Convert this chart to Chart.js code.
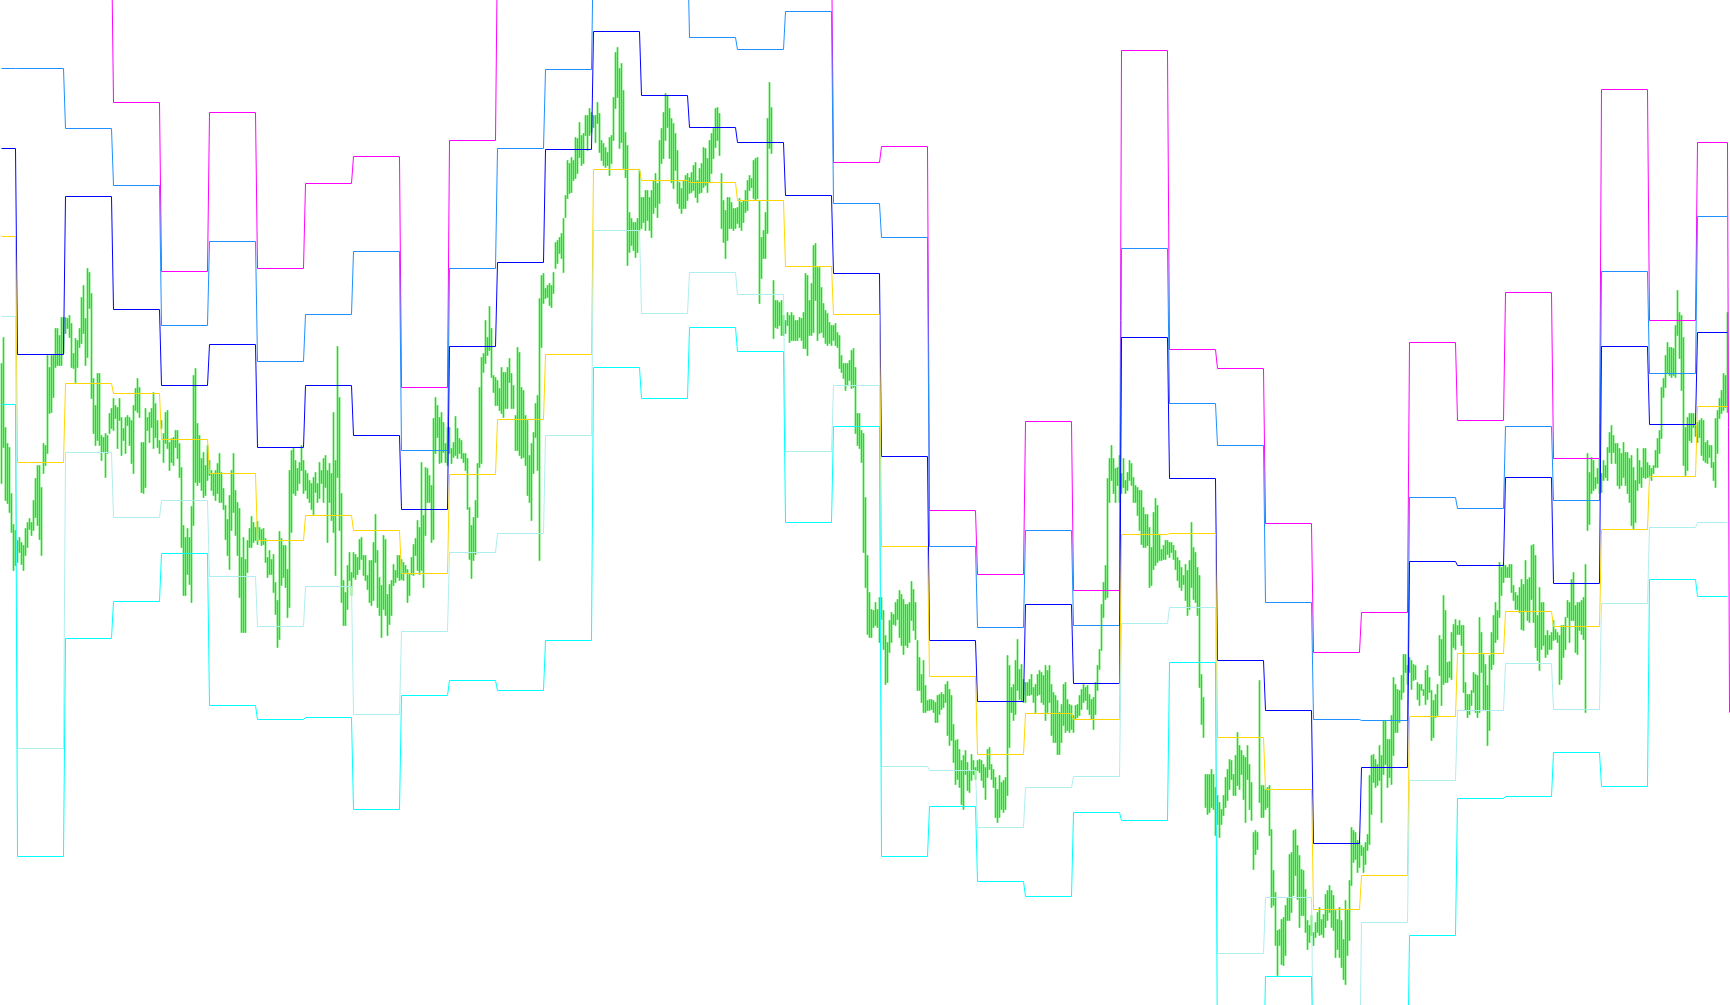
<!DOCTYPE html>
<html>
<head>
<meta charset="utf-8">
<title>Pivot levels</title>
<script src="https://cdn.jsdelivr.net/npm/chart.js@4.4.0/dist/chart.umd.min.js"></script>
<style>
  html, body { margin: 0; padding: 0; background: #fff; overflow: hidden; }
  #wrap { width: 1730px; height: 1005px; }
</style>
</head>
<body>
<div id="wrap"><canvas id="chart" width="1730" height="1005"></canvas></div>
<script>
// bar highs, one bar every 2px (864 bars)
var barHigh = [
  637,663,573,557,553,507,476,470,460,463, 458,455,472,478,482,478,500,522,535,535,
  513,557,555,645,633,645,645,672,672,665, 683,683,683,682,685,677,647,662,660,672,
  703,715,682,732,728,707,622,595,627,627, 565,563,567,565,587,592,602,595,593,602,
  583,572,583,585,583,580,595,612,622,613, 558,558,592,583,588,592,608,597,580,560,
  580,567,588,590,558,562,563,570,570,557, 533,475,463,472,463,494,625,632,577,565,
  542,548,535,555,540,530,527,530,537,547, 528,512,495,481,505,530,547,510,498,492,
  443,463,441,460,472,484,478,473,479,473, 471,472,462,443,450,441,446,418,400,469,
  462,455,455,431,
  530,550,552,540,532,538,555,540,530,527, 520,517,523,528,517,538,530,542,545,530,
  537,527,588,540,654,603,507,420,408,435, 448,428,448,446,443,461,463,445,445,425,
  440,440,458,486,450,423,415,465,461,406, 416,420,436,430,445,445,441,438,435,431,
  426,443,456,462,480,473,538,485,533,532, 525,515,582,603,595,583,588,578,557,573,
  573,552,558,584,572,562,560,547,547,542, 493,475,483,500,537,613,643,647,680,663,
  694,672,625,623,620,612,633,628,628,633, 642,627,615,585,653,648,613,610,585,580,
  545,557,568,597,605,702,725,727,712,715, 717,715,728,758,760,763,767,782,805,840,
  837,843,840,863,
  862,878,865,867,885,885,892,888,885,885, 898,887,860,857,853,848,863,865,903,948,
  953,932,937,910,868,855,788,782,778,778, 782,830,803,803,810,810,803,810,820,827,
  817,860,872,888,907,905,892,882,877,867, 850,818,812,820,825,827,823,828,835,838,
  820,832,837,853,852,842,860,867,872,892, 893,887,827,800,790,803,803,798,792,792,
  793,802,798,800,810,820,825,822,840,842, 843,800,763,770,788,882,918,893,720,700,
  700,698,700,685,680,688,685,688,685,680, 680,683,682,688,727,725,700,717,755,757,
  733,733,713,697,690,687,678,675,675,677, 668,665,645,637,637,637,640,650,652,633,
  587,587,570,567,
  503,445,408,391,390,398,391,403,403,390, 365,358,380,388,386,398,401,410,406,401,
  396,396,398,419,411,398,360,343,326,340, 315,300,301,301,300,298,305,306,308,306,
  316,319,311,305,276,260,261,251,240,245, 250,238,230,246,240,233,240,241,240,236,
  233,251,253,236,231,223,211,225,218,220, 223,345,335,313,316,340,361,331,336,321,
  318,318,321,326,313,316,326,330,328,325, 335,330,335,316,308,305,300,288,296,316,
  318,301,296,295,285,295,296,305,311,316, 313,315,306,301,303,318,335,351,396,418,
  435,522,542,555,542,532,533,545,527,542, 520,528,540,537,523,515,513,510,510,493,
  486,486,473,453,
  488,502,495,466,451,455,460,460,458,458, 455,450,443,440,433,425,436,430,440,478,
  453,448,433,425,326,303,226,226,226,231, 226,213,205,198,191,205,223,231,241,240,
  226,245,268,255,250,245,243,255,236,218, 168,170,168,320,215,215,211,213,215,171,
  130,108,70,71,81,83,95,103,146,148, 170,171,155,145,131,130,111,80,75,85,
  68,78,88,93,81,86,106,110,115,110, 105,90,81,93,80,61,100,91,120,173,
  170,168,160,158,155,153,158,166,225,245, 246,241,236,255,245,280,280,261,261,285,
  323,316,311,310,325,346,346,335,343,340, 336,335,318,316,316,311,330,335,323,310,
  300,306,316,365,
  361,405,390,338,339,368,376,381,375,380, 375,375,318,306,306,310,328,326,325,383,
  368,346,336,315,345,368,385,398,390,438, 433,436,435,433,436,436,415,408,405,413,
  421,416,440,421,423,455,456,445,385,413, 398,398,365,370,365,368,380,371,368,365,
  375,375,383,400,398,421,428,395,398,398, 400,403,436,547,528,543,540,523,532,542,
  527,540,535,553,568,575,565,557,557,552, 547,558,548,548,542,545,533,520,552,540,
  533,552,552,538,535,532,535,550,562,570, 613,622,645,658,653,653,652,675,710,688,
  685,663,573,583,587,587,587,575,578,580, 582,580,558,560,555,555,538,582,590,602,
  610,627,625,688
];

// bar lows
var barLow = [
  517,553,500,497,488,468,430,435,438,448, 436,430,445,453,471,465,470,483,475,461,
  445,527,535,547,587,588,603,633,635,635, 635,647,667,672,663,633,632,618,633,653,
  657,667,635,643,692,602,567,555,560,555, 540,548,523,547,567,572,570,582,552,580,
  545,560,547,575,555,537,527,590,588,583, 508,507,513,570,558,573,552,563,553,547,
  572,538,557,552,530,538,535,553,542,523, 453,405,405,426,416,398,475,518,515,518,
  510,503,505,520,525,510,505,500,507,498, 498,491,461,445,431,470,488,465,445,403,
  368,368,368,428,453,453,458,460,456,461, 455,456,438,423,426,426,408,386,353,361,
  415,423,413,383,
  393,468,507,505,510,517,530,507,510,502, 498,491,486,508,498,502,517,498,513,458,
  498,480,468,425,523,470,398,375,375,391, 420,405,423,421,426,431,441,425,420,411,
  398,395,400,438,393,385,363,391,385,365, 376,385,415,418,423,420,421,420,428,398,
  405,426,425,445,430,426,430,413,465,498, 498,458,461,547,563,537,538,548,538,535,
  547,537,543,545,542,547,542,538,530,491, 441,422,440,446,483,533,537,628,637,645,
  650,623,608,595,595,590,587,583,592,592, 618,592,592,550,550,545,542,543,535,505,
  498,480,527,563,530,440,653,697,702,703, 695,693,707,732,737,747,742,728,783,802,
  807,808,820,822,
  827,843,835,837,865,850,865,868,873,858, 877,848,840,835,833,835,825,837,860,892,
  903,852,858,832,823,735,748,755,750,743, 748,770,772,778,770,780,770,763,787,793,
  783,797,837,842,860,873,842,818,812,830, 797,792,787,792,792,800,807,808,810,803,
  798,807,808,813,815,808,818,827,842,853, 860,845,772,758,742,760,772,772,770,772,
  777,773,770,778,788,790,810,813,802,800, 802,697,722,742,742,767,852,847,662,673,
  672,675,665,665,667,675,658,660,660,660, 660,663,660,652,652,645,665,665,668,700,
  660,667,668,663,657,655,657,655,660,655, 653,632,628,622,610,615,620,612,613,567,
  555,552,538,448,
  413,366,363,363,373,375,373,358,381,351, 316,318,348,358,376,375,381,363,355,346,
  355,353,358,380,370,361,310,310,298,288, 288,290,290,291,288,278,278,286,291,293,
  298,265,255,260,238,216,221,213,196,191, 226,210,208,220,226,221,230,228,220,213,
  201,223,231,221,213,183,178,183,191,188, 191,205,253,288,280,286,310,301,300,298,
  298,305,305,306,298,288,305,306,298,296, 280,288,298,265,258,258,246,246,258,275,
  268,270,268,271,268,281,283,285,291,298, 300,291,286,281,271,286,310,331,350,383,
  401,403,498,520,507,498,515,498,507,513, 507,510,520,515,498,498,485,470,456,453,
  453,455,413,415,
  431,435,438,440,440,441,441,446,443,448, 441,431,420,413,410,416,400,385,391,413,
  401,398,385,313,276,263,193,186,188,193, 191,165,176,163,176,185,193,200,211,221,
  205,205,215,211,226,201,178,221,191,180, 131,146,151,198,183,183,191,193,165,93,
  95,55,25,55,36,35,45,80,80,88, 105,125,101,73,85,85,68,51,58,65,
  55,63,68,65,66,63,73,80,88,73, 70,43,51,43,33,21,16,45,60,115,
  138,141,128,133,145,128,136,150,156,186, 218,213,215,220,178,226,236,213,223,216,
  245,268,268,278,301,308,328,316,328,311, 320,321,301,295,310,305,296,301,308,260,
  263,283,285,325,
  295,316,318,318,323,321,353,351,366,366, 355,308,290,283,286,295,308,288,283,288,
  328,291,290,255,270,331,336,358,361,383, 405,418,423,423,423,408,400,391,391,388,
  371,370,390,380,378,401,378,353,340,330, 351,355,343,346,351,351,360,361,358,316,
  321,343,351,383,358,380,380,348,346,370, 366,361,288,470,476,507,510,512,517,507,
  508,520,523,520,548,537,548,537,515,512, 515,523,515,507,498,475,471,478,510,517,
  513,523,522,523,523,520,527,533,533,547, 562,603,613,627,625,623,625,623,665,642,
  610,535,525,530,560,558,573,564,558,563, 545,540,538,537,543,533,520,513,547,582,
  587,590,593,588
];

// pivot levels, one value per period (period 0 is partial, 36 is the current one)
var lvlR3 = [1060,1060,1060,898,729,888,732,817,844,613,860,1060,1060,1060,1060,1060,1060,1060,838,854,490,426,579,410,950,651,632,477,348,388,658,580,708,542,911,680,858];
var lvlR2 = [932,932,872,815,675,759,639,686,749,550,732,852,931,1060,1060,963,951,989,797,763,454,373,470,375,752,597,555,398,281,280,503,492,574,500,729,627,784];
var lvlR1 = [852,646,804,691,615,656,553,615,565,491,654,738,851,969,905,873,858,805,727,544,360,299,396,317,663,522,340,290,157,233,439,435,523,417,654,576,668];
var lvlP  = [764,538,617,607,561,527,460,485,470,427,526,581,646,831,820,818,800,734,686,454,324,246,287,281,466,467,263,211,91,125,284,347,389,374,471,524,594];
var lvlS1 = [684,252,548,483,500,424,374,414,286,369,448,467,565,770,687,728,706,549,615,234,230,173,213,224,377,393,47,103,-80,78,220,290,337,291,397,473,478];
var lvlS2 = [596,144,362,399,447,295,281,283,191,305,320,310,360,633,602,673,649,478,574,144,194,119,104,188,180,338,-80,24,-80,-80,65,202,204,248,214,421,404];
var lastR3 = 288;

var BARS_PER_PERIOD = 24;
var LAST_BAR = 863;

function periodBounds(k) {
  var s = k === 0 ? 0 : 8 + BARS_PER_PERIOD * (k - 1);
  var e = k === 0 ? 7 : Math.min(s + BARS_PER_PERIOD - 1, LAST_BAR);
  return [s, e];
}

function stepPoints(levels) {
  var pts = [];
  levels.forEach(function (v, k) {
    var b = periodBounds(k);
    pts.push({ x: b[0], y: v }, { x: b[1], y: v });
  });
  return pts;
}

var bars = barHigh.map(function (h, i) {
  return { x: i, y: [barLow[i], h] };
});

var r3pts = stepPoints(lvlR3);
r3pts.push({ x: LAST_BAR + 1, y: lastR3 });

function levelSet(data, color) {
  return {
    type: 'line',
    data: data,
    borderColor: color,
    borderWidth: 1,
    pointRadius: 0,
    tension: 0,
    fill: false,
    order: 1
  };
}

new Chart(document.getElementById('chart'), {
  type: 'bar',
  data: {
    datasets: [
      {
        type: 'bar',
        data: bars,
        backgroundColor: '#22dd22',
        borderWidth: 0,
        barThickness: 1,
        grouped: false,
        order: 10
      },
      levelSet(lvlS2.length && stepPoints(lvlS2), '#00ffff'),
      levelSet(stepPoints(lvlS1), '#afeeee'),
      levelSet(stepPoints(lvlP), '#ffd700'),
      levelSet(stepPoints(lvlR1), '#0000ff'),
      levelSet(stepPoints(lvlR2), '#1e90ff'),
      levelSet(r3pts, '#ff00ff')
    ]
  },
  options: {
    responsive: false,
    animation: false,
    devicePixelRatio: 1,
    layout: { padding: 0 },
    plugins: {
      legend: { display: false },
      tooltip: { enabled: false }
    },
    scales: {
      x: { type: 'linear', min: -0.75, max: 864.25, offset: false, display: false },
      y: { min: -4.5, max: 1000.5, display: false }
    }
  }
});
</script>
</body>
</html>
